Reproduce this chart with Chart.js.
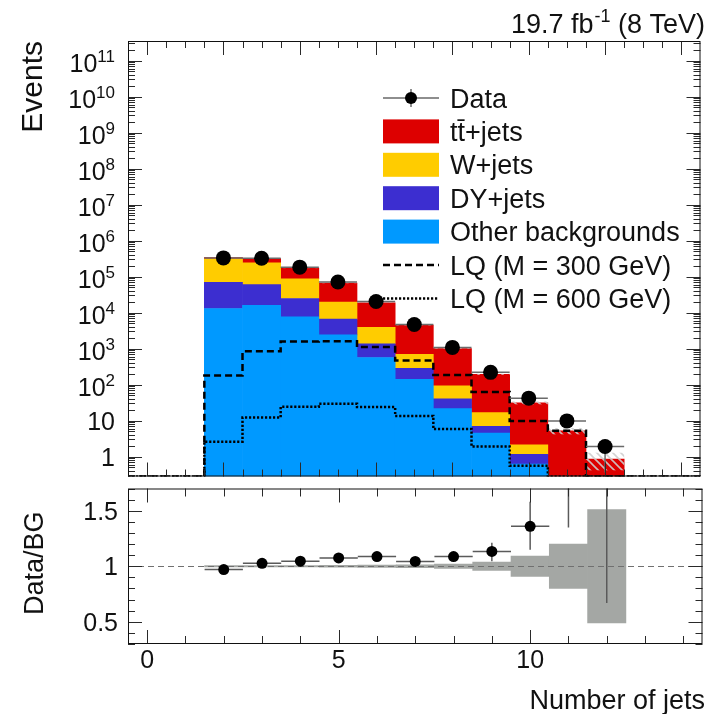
<!DOCTYPE html>
<html>
<head>
<meta charset="utf-8">
<script src="https://cdn.jsdelivr.net/npm/chart.js@4.4.1/dist/chart.umd.min.js"></script>
<style>
  html, body { margin: 0; padding: 0; background: #fff; }
  #wrap { position: relative; width: 708px; height: 714px; overflow: hidden; background: #fff; }
  #topPanel { position: absolute; left: 0; top: 0; }
  #ratioPanel { position: absolute; left: 0; top: 483px; }
</style>
</head>
<body>
<div id="wrap">
  <canvas id="topPanel" width="708" height="484"></canvas>
  <canvas id="ratioPanel" width="708" height="231"></canvas>
</div>
<script>
// ---- jet-multiplicity bins ----
const jets = [2, 3, 4, 5, 6, 7, 8, 9, 10, 11, 12];

// observed events per bin
const observed = [330000, 323000, 183000, 70500, 20300, 4665, 1080, 219, 42, 9.8, 1.9];
// statistical error bar extents on the observed counts (down / up)
const obsErrDown = [570, 570, 430, 265, 142, 68, 33, 15, 6.5, 3.1, 1.54];
const obsErrUp   = [570, 570, 430, 265, 142, 68, 33, 15, 7.5, 3.3, 0];

// background components (stacked bottom to top)
const otherBkg = [13000, 16000, 7600, 2400, 565, 141, 21.5, 4.5, 0.62, null, null];
const dyJets   = [56000, 44000, 17000, 4200, 795, 140, 18.5, 2.4, 0.54, null, null];
const wJets    = [241000, 180000, 62400, 12900, 2540, 412, 53, 9.8, 0.97, null, null];
const ttJets   = [30000, 75000, 86000, 46500, 14800, 3780, 901, 177, 29.1, 5.2, 0.85];

// relative background uncertainty per bin
const bkgRelUnc = [0.005, 0.006, 0.007, 0.008, 0.01, 0.012, 0.02, 0.037, 0.092, 0.20, 0.51];

// signal hypotheses
const lq300 = [178, 838, 1580, 1600, 1100, 470, 186, 62, 9.8, 5.2, 0];
const lq600 = [2.6, 12.2, 24.3, 29.3, 23.7, 13.5, 5.8, 1.9, 0.56, 0, 0];

// data / background ratio and its error bar ends
const ratio     = [0.970, 1.026, 1.046, 1.075, 1.087, 1.043, 1.087, 1.133, 1.36, 1.88, 2.2];
const ratioLow  = [0.966, 1.022, 1.041, 1.069, 1.079, 1.030, 1.056, 1.045, 1.148, 1.35, 0.67];
const ratioHigh = [0.974, 1.030, 1.051, 1.081, 1.095, 1.056, 1.118, 1.211, 1.58, 2.6, 4.0];

// axis ticks and labels
const yDecades = [0, 1, 2, 3, 4, 5, 6, 7, 8, 9, 10, 11];
const ratioTickValues = [0.5, 1, 1.5];
const ratioTickLabels = ['0.5', '1', '1.5'];
const xTickValues = [0, 5, 10];
const xTickLabels = ['0', '5', '10'];

const seriesNames = ['Data', 'tt\u0304+jets', 'W+jets', 'DY+jets', 'Other backgrounds',
                     'LQ (M = 300 GeV)', 'LQ (M = 600 GeV)'];
const headerText = ['19.7 fb', '-1', ' (8 TeV)'];
const yTitleTop = 'Events';
const yTitleRatio = 'Data/BG';
const xTitle = 'Number of jets';

// ---- styling ----
const FONT = '"Liberation Sans", Arial, Helvetica, sans-serif';
const COL_TT = '#dd0000', COL_W = '#ffcc00', COL_DY = '#3c2ed0', COL_OTHER = '#0099ff';
const COL_BAND = '#a4a7a4';
const X_MIN = -0.5, X_MAX = 14.5;
const Y_MIN = 0.28, Y_MAX = 3.5e11;
const R_MIN = 0.3, R_MAX = 1.7;

const bkgTotal = jets.map((_, i) =>
  [otherBkg, dyJets, wJets, ttJets].reduce((s, a) => s + (a[i] || 0), 0));

function stepPoints(vals) {
  const pts = [{ x: X_MIN, y: Y_MIN }];
  jets.forEach((j, i) => pts.push({ x: j - 0.5, y: vals[i] > 0 ? vals[i] : Y_MIN }));
  pts.push({ x: jets[jets.length - 1] + 0.5, y: Y_MIN });
  pts.push({ x: X_MAX, y: Y_MIN });
  return pts;
}

// hatch pattern for the background uncertainty band
const hatchCanvas = document.createElement('canvas');
hatchCanvas.width = 8; hatchCanvas.height = 8;
(function () {
  const h = hatchCanvas.getContext('2d');
  h.strokeStyle = 'rgba(205,205,205,0.9)';
  h.lineWidth = 1.6;
  h.beginPath();
  h.moveTo(-2, -2); h.lineTo(10, 10);
  h.moveTo(-2, 6); h.lineTo(2, 10);
  h.moveTo(6, -2); h.lineTo(10, 2);
  h.stroke();
})();

function clipArea(ctx, a) {
  ctx.beginPath();
  ctx.rect(a.left, a.top, a.right - a.left, a.bottom - a.top);
  ctx.clip();
}

function drawTicks(chart, xTicks, yTicks, sides) {
  const { ctx, chartArea: a, scales: { x, y } } = chart;
  ctx.save();
  ctx.strokeStyle = '#2a2a2a';
  ctx.lineWidth = 1;
  ctx.beginPath();
  xTicks.forEach(t => {
    const px = Math.round(x.getPixelForValue(t.v)) + 0.5;
    if (sides.bottom) { ctx.moveTo(px, a.bottom); ctx.lineTo(px, a.bottom - t.len); }
    if (sides.top) { ctx.moveTo(px, a.top); ctx.lineTo(px, a.top + t.len); }
  });
  yTicks.forEach(t => {
    const py = Math.round(y.getPixelForValue(t.v)) + 0.5;
    ctx.moveTo(a.left, py); ctx.lineTo(a.left + t.len, py);
    ctx.moveTo(a.right, py); ctx.lineTo(a.right - t.len, py);
  });
  ctx.stroke();
  ctx.strokeStyle = '#111';
  ctx.strokeRect(a.left + 0.5, a.top + 0.5, a.right - a.left - 1, a.bottom - a.top - 1);
  ctx.restore();
}

function drawDataMarker(ctx, x, y, r) {
  ctx.beginPath();
  ctx.arc(x, y, r, 0, Math.PI * 2);
  ctx.fillStyle = '#000';
  ctx.fill();
}

// ---- upper panel ----
const topDecor = {
  id: 'topDecor',
  afterDatasetDraw(chart, args) {
    if (args.index !== 0) return;
    // uncertainty hatch on the background stack
    const { ctx, chartArea: a, scales: { x, y } } = chart;
    ctx.save();
    clipArea(ctx, a);
    ctx.fillStyle = ctx.createPattern(hatchCanvas, 'repeat');
    jets.forEach((j, i) => {
      const tot = bkgTotal[i], u = bkgRelUnc[i];
      const x0 = x.getPixelForValue(j - 0.5), x1 = x.getPixelForValue(j + 0.5);
      const yHi = y.getPixelForValue(tot * (1 + u));
      const yLo = y.getPixelForValue(Math.max(tot * (1 - u), Y_MIN));
      ctx.fillRect(x0, yHi, x1 - x0, yLo - yHi);
    });
    ctx.restore();
  },
  beforeDatasetDraw(chart, args) {
    if (args.index !== 6) return;
    // error bars of the observed counts
    const { ctx, chartArea: a, scales: { x, y } } = chart;
    ctx.save();
    clipArea(ctx, a);
    ctx.strokeStyle = '#6a6a6a';
    ctx.lineWidth = 1.5;
    ctx.beginPath();
    jets.forEach((j, i) => {
      const py = y.getPixelForValue(observed[i]);
      ctx.moveTo(x.getPixelForValue(j - 0.5), py);
      ctx.lineTo(x.getPixelForValue(j + 0.5), py);
      const px = x.getPixelForValue(j);
      const lo = Math.max(observed[i] - obsErrDown[i], Y_MIN);
      ctx.moveTo(px, y.getPixelForValue(lo));
      ctx.lineTo(px, y.getPixelForValue(observed[i] + obsErrUp[i]));
    });
    ctx.stroke();
    ctx.restore();
  },
  afterDraw(chart) {
    const { ctx, chartArea: a, scales: { x, y } } = chart;
    // ticks
    const xt = [];
    for (let v = 0; v <= 14; v += 0.5) xt.push({ v, len: (v % 2 === 0) ? 14 : 7 });
    const yt = [];
    yDecades.forEach(d => yt.push({ v: Math.pow(10, d), len: 14 }));
    for (let d = -1; d <= 11; d++) {
      for (let k = 2; k <= 9; k++) {
        const v = k * Math.pow(10, d);
        if (v > Y_MIN && v < Y_MAX) yt.push({ v, len: 7 });
      }
    }
    drawTicks(chart, xt, yt, { top: true, bottom: true });

    ctx.save();
    ctx.fillStyle = '#111';
    // y tick labels
    const right = 115;
    yDecades.forEach(d => {
      const py = y.getPixelForValue(Math.pow(10, d));
      ctx.textAlign = 'left';
      ctx.textBaseline = 'alphabetic';
      if (d === 0 || d === 1) {
        ctx.font = '25px ' + FONT;
        const s = d === 0 ? '1' : '10';
        ctx.fillText(s, right - ctx.measureText(s).width, py + 9.5);
      } else {
        ctx.font = '17px ' + FONT;
        const e = String(d);
        const we = ctx.measureText(e).width;
        ctx.fillText(e, right - we, py + 1);
        ctx.font = '25px ' + FONT;
        const wb = ctx.measureText('10').width;
        ctx.fillText('10', right - we - wb, py + 11);
      }
    });

    // axis title
    ctx.save();
    ctx.translate(42, 41);
    ctx.rotate(-Math.PI / 2);
    ctx.font = '30px ' + FONT;
    ctx.textAlign = 'right';
    ctx.textBaseline = 'alphabetic';
    ctx.fillText(yTitleTop, 0, 0);
    ctx.restore();

    // luminosity header
    ctx.textAlign = 'left';
    ctx.textBaseline = 'alphabetic';
    ctx.font = '27px ' + FONT;
    const w0 = ctx.measureText(headerText[0]).width;
    const w2 = ctx.measureText(headerText[2]).width;
    ctx.font = '18px ' + FONT;
    const w1 = ctx.measureText(headerText[1]).width;
    let hx = 705 - (w0 + w1 + w2 + 1);
    ctx.font = '27px ' + FONT;
    ctx.fillText(headerText[0], hx, 33);
    ctx.font = '18px ' + FONT;
    ctx.fillText(headerText[1], hx + w0 + 1, 22);
    ctx.font = '27px ' + FONT;
    ctx.fillText(headerText[2], hx + w0 + w1 + 1, 33);

    // legend
    const lx0 = 383, lx1 = 439, tx = 450;
    const rowY = i => 98 + 33.4 * i;
    const ds = chart.data.datasets;
    const entries = [
      { label: ds[6].label, kind: 'data' },
      { label: ds[3].label, kind: 'box', color: ds[3].backgroundColor },
      { label: ds[2].label, kind: 'box', color: ds[2].backgroundColor },
      { label: ds[1].label, kind: 'box', color: ds[1].backgroundColor },
      { label: ds[0].label, kind: 'box', color: ds[0].backgroundColor },
      { label: ds[4].label, kind: 'line', dash: ds[4].borderDash },
      { label: ds[5].label, kind: 'line', dash: ds[5].borderDash }
    ];
    entries.forEach((e, i) => {
      const cy = rowY(i);
      if (e.kind === 'data') {
        ctx.strokeStyle = '#6a6a6a';
        ctx.lineWidth = 1.5;
        ctx.beginPath();
        ctx.moveTo(lx0, cy); ctx.lineTo(lx1, cy);
        ctx.moveTo(411, cy - 9); ctx.lineTo(411, cy + 9);
        ctx.stroke();
        drawDataMarker(ctx, 411, cy, 6);
      } else if (e.kind === 'box') {
        ctx.fillStyle = e.color;
        ctx.fillRect(lx0, cy - 12, lx1 - lx0, 24);
      } else {
        ctx.save();
        ctx.strokeStyle = '#000';
        ctx.lineWidth = 2.5;
        ctx.setLineDash(e.dash);
        ctx.beginPath();
        ctx.moveTo(lx0, cy); ctx.lineTo(lx1, cy);
        ctx.stroke();
        ctx.restore();
      }
      ctx.fillStyle = '#111';
      ctx.font = '27px ' + FONT;
      ctx.textAlign = 'left';
      ctx.fillText(e.label, tx, cy + 9.5);
    });
    ctx.restore();
  }
};

const barCommon = { type: 'bar', stack: 'bkg', order: 3, borderWidth: 0,
                    barPercentage: 1.0, categoryPercentage: 1.0 };

new Chart(document.getElementById('topPanel'), {
  type: 'bar',
  data: {
    datasets: [
      Object.assign({ label: seriesNames[4], backgroundColor: COL_OTHER,
        data: jets.map((j, i) => ({ x: j, y: otherBkg[i] })) }, barCommon),
      Object.assign({ label: seriesNames[3], backgroundColor: COL_DY,
        data: jets.map((j, i) => ({ x: j, y: dyJets[i] })) }, barCommon),
      Object.assign({ label: seriesNames[2], backgroundColor: COL_W,
        data: jets.map((j, i) => ({ x: j, y: wJets[i] })) }, barCommon),
      Object.assign({ label: seriesNames[1], backgroundColor: COL_TT,
        data: jets.map((j, i) => ({ x: j, y: ttJets[i] })) }, barCommon),
      { type: 'line', label: seriesNames[5], stack: 'lq300', order: 2,
        data: stepPoints(lq300), stepped: true, borderColor: '#000', borderWidth: 2.5,
        borderDash: [7, 4], pointRadius: 0, fill: false },
      { type: 'line', label: seriesNames[6], stack: 'lq600', order: 2,
        data: stepPoints(lq600), stepped: true, borderColor: '#000', borderWidth: 2.5,
        borderDash: [2.2, 1.8], pointRadius: 0, fill: false },
      { type: 'scatter', label: seriesNames[0], stack: 'obs', order: 1,
        data: jets.map((j, i) => ({ x: j, y: observed[i] })),
        pointRadius: 7.5, pointBackgroundColor: '#000', pointBorderWidth: 0, showLine: false }
    ]
  },
  options: {
    responsive: false,
    animation: false,
    devicePixelRatio: 1,
    layout: { padding: { left: 128, right: 2, top: 41, bottom: 1 } },
    plugins: { legend: { display: false }, tooltip: { enabled: false } },
    scales: {
      x: { type: 'linear', min: X_MIN, max: X_MAX, offset: false, stacked: true, display: false },
      y: { type: 'logarithmic', min: Y_MIN, max: Y_MAX, stacked: true, display: false }
    }
  },
  plugins: [topDecor]
});

// ---- ratio panel ----
const ratioDecor = {
  id: 'ratioDecor',
  afterDatasetDraw(chart, args) {
    if (args.index !== 0) return;
    const { ctx, chartArea: a, scales: { y } } = chart;
    const py = Math.round(y.getPixelForValue(1)) + 0.5;
    ctx.save();
    ctx.strokeStyle = '#707070';
    ctx.lineWidth = 1;
    ctx.setLineDash([6, 4]);
    ctx.beginPath();
    ctx.moveTo(a.left, py); ctx.lineTo(a.right, py);
    ctx.stroke();
    ctx.restore();
  },
  beforeDatasetDraw(chart, args) {
    if (args.index !== 1) return;
    const { ctx, chartArea: a, scales: { x, y } } = chart;
    ctx.save();
    clipArea(ctx, a);
    ctx.strokeStyle = '#5a5a5a';
    ctx.lineWidth = 1.5;
    ctx.beginPath();
    jets.forEach((j, i) => {
      const py = y.getPixelForValue(ratio[i]);
      ctx.moveTo(x.getPixelForValue(j - 0.5), py);
      ctx.lineTo(x.getPixelForValue(j + 0.5), py);
      const px = x.getPixelForValue(j);
      ctx.moveTo(px, y.getPixelForValue(ratioLow[i]));
      ctx.lineTo(px, y.getPixelForValue(ratioHigh[i]));
    });
    ctx.stroke();
    ctx.restore();
  },
  afterDraw(chart) {
    const { ctx, chartArea: a, scales: { x, y } } = chart;
    const xt = [];
    for (let v = 0; v <= 14; v += 1) xt.push({ v, len: (v % 5 === 0) ? 14 : 8 });
    const yt = [];
    for (let k = 3; k <= 17; k++) {
      const v = k / 10;
      yt.push({ v, len: (k % 5 === 0) ? 14 : 7 });
    }
    drawTicks(chart, xt, yt, { top: true, bottom: true });

    ctx.save();
    ctx.fillStyle = '#111';
    ctx.font = '25px ' + FONT;
    ctx.textBaseline = 'alphabetic';
    ctx.textAlign = 'right';
    ratioTickValues.forEach((v, i) => {
      ctx.fillText(ratioTickLabels[i], 118, y.getPixelForValue(v) + 9);
    });
    ctx.textAlign = 'center';
    xTickValues.forEach((v, i) => {
      ctx.fillText(xTickLabels[i], x.getPixelForValue(v), a.bottom + 24);
    });
    ctx.font = '27px ' + FONT;
    ctx.textAlign = 'right';
    ctx.fillText(xTitle, 705, 226);

    ctx.save();
    ctx.translate(43, (a.top + a.bottom) / 2 - 3);
    ctx.rotate(-Math.PI / 2);
    ctx.font = '27px ' + FONT;
    ctx.textAlign = 'center';
    ctx.fillText(yTitleRatio, 0, 0);
    ctx.restore();
    ctx.restore();
  }
};

new Chart(document.getElementById('ratioPanel'), {
  type: 'bar',
  data: {
    datasets: [
      { type: 'bar', label: 'Background uncertainty', backgroundColor: COL_BAND, borderWidth: 0,
        barPercentage: 1.0, categoryPercentage: 1.0, order: 2,
        data: jets.map((j, i) => ({ x: j, y: [1 - bkgRelUnc[i], 1 + bkgRelUnc[i]] })) },
      { type: 'scatter', label: seriesNames[0], order: 1,
        data: jets.map((j, i) => ({ x: j, y: ratio[i] })),
        pointRadius: 5.5, pointBackgroundColor: '#000', pointBorderWidth: 0, showLine: false }
    ]
  },
  options: {
    responsive: false,
    animation: false,
    devicePixelRatio: 1,
    layout: { padding: { left: 128, right: 2, top: 0, bottom: 70 } },
    plugins: { legend: { display: false }, tooltip: { enabled: false } },
    scales: {
      x: { type: 'linear', min: X_MIN, max: X_MAX, offset: false, display: false },
      y: { type: 'linear', min: R_MIN, max: R_MAX, display: false }
    }
  },
  plugins: [ratioDecor]
});
</script>
</body>
</html>
